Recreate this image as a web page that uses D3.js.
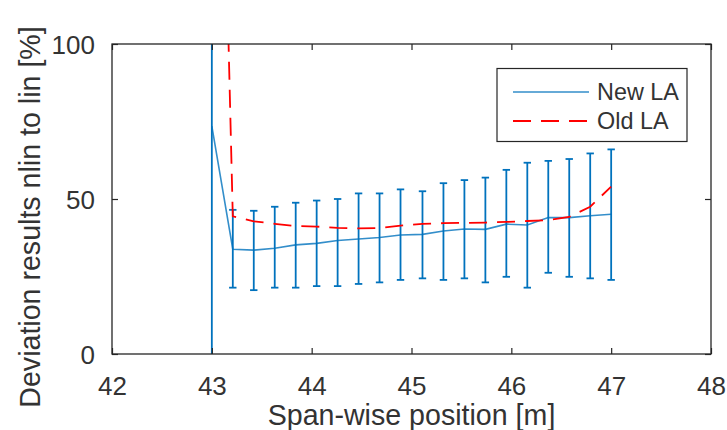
<!DOCTYPE html>
<html>
<head>
<meta charset="utf-8">
<script src="https://cdn.jsdelivr.net/npm/d3@7"></script>
<style>
  html, body { margin: 0; padding: 0; background: #fff; }
  svg { display: block; font-family: "Liberation Sans", Arial, Helvetica, sans-serif; }
</style>
</head>
<body>
<script>
// ---- data ----
const positions = [43, 43.21, 43.42, 43.63, 43.84, 44.05, 44.26, 44.47, 44.68, 44.89,
                   45.11, 45.32, 45.53, 45.74, 45.95, 46.16, 46.37, 46.58, 46.79, 47];
const newLA = [73.5, 33.8, 33.5, 34.1, 35.2, 35.7, 36.6, 37.1, 37.6, 38.4,
               38.6, 39.7, 40.3, 40.2, 41.9, 41.6, 44.0, 44.0, 44.6, 45.1];
const newLAUpper = [170, 46.5, 46.2, 47.5, 48.8, 49.5, 50.0, 51.8, 51.8, 53.1,
                    52.5, 55.1, 56.1, 56.9, 59.4, 61.7, 62.3, 62.9, 64.7, 66.0];
const newLALower = [-50, 21.4, 20.6, 21.4, 21.4, 21.9, 21.9, 22.6, 23.1, 23.9,
                    24.4, 23.9, 24.4, 23.1, 24.9, 21.4, 26.2, 24.9, 24.4, 23.9];
const oldLA = [320, 44.4, 42.8, 42.0, 41.3, 41.1, 40.7, 40.5, 40.6, 41.4,
               42.0, 42.2, 42.3, 42.4, 42.6, 42.9, 43.2, 44.2, 47.5, 54.0];
const xTicks = [42, 43, 44, 45, 46, 47, 48];
const yTicks = [0, 50, 100];
const seriesNames = ["New LA", "Old LA"];
const xLabel = "Span-wise position [m]";
const yLabel = "Deviation results nlin to lin [%]";

// ---- layout ----
const W = 727, H = 430;
const L = 112, R = 711, T = 44, B = 354;
const blue = "#0072BD", red = "#FF0000", axisCol = "#262626";

const svg = d3.select("body").append("svg").attr("width", W).attr("height", H);

const x = d3.scaleLinear().domain([42, 48]).range([L, R]);
const y = d3.scaleLinear().domain([0, 100]).range([B, T]);

svg.append("defs").append("clipPath").attr("id", "clip")
  .append("rect").attr("x", L).attr("y", T).attr("width", R - L).attr("height", B - T);

const plot = svg.append("g").attr("clip-path", "url(#clip)");

const pts = positions.map((p, i) => ({x: p, v: newLA[i], lo: newLALower[i], hi: newLAUpper[i], o: oldLA[i]}));

// error bars
const capW = 3.7;
const eb = plot.append("g").attr("stroke", blue).attr("stroke-width", 1.8).attr("fill", "none");
pts.forEach(d => {
  eb.append("line").attr("x1", x(d.x)).attr("x2", x(d.x)).attr("y1", y(d.lo)).attr("y2", y(d.hi));
  eb.append("line").attr("x1", x(d.x) - capW).attr("x2", x(d.x) + capW).attr("y1", y(d.lo)).attr("y2", y(d.lo));
  eb.append("line").attr("x1", x(d.x) - capW).attr("x2", x(d.x) + capW).attr("y1", y(d.hi)).attr("y2", y(d.hi));
});

// New LA line
plot.append("path").datum(pts)
  .attr("fill", "none").attr("stroke", blue).attr("stroke-width", 1.6).attr("stroke-opacity", 0.8)
  .attr("d", d3.line().x(d => x(d.x)).y(d => y(d.v)));

// Old LA line
plot.append("path").datum(pts)
  .attr("fill", "none").attr("stroke", red).attr("stroke-width", 1.8)
  .attr("stroke-dasharray", "18,10")
  .attr("d", d3.line().x(d => x(d.x)).y(d => y(d.o)));

// axes
const tickLen = 6;
const fs = 26;
const gx = svg.append("g").attr("transform", `translate(0,${B})`)
  .call(d3.axisBottom(x).tickValues(xTicks).tickSizeInner(-tickLen).tickSizeOuter(0).tickPadding(0).tickFormat(d3.format("d")));
gx.selectAll("text").attr("y", 41).attr("dy", null);
const gxt = svg.append("g").attr("transform", `translate(0,${T})`)
  .call(d3.axisTop(x).tickValues(xTicks).tickSizeInner(-tickLen).tickSizeOuter(0).tickFormat(""));
const gy = svg.append("g").attr("transform", `translate(${L},0)`)
  .call(d3.axisLeft(y).tickValues(yTicks).tickSizeInner(-tickLen).tickSizeOuter(0).tickFormat(d3.format("d")));
gy.selectAll("text").attr("x", -17).attr("dy", "0.36em");
const gyr = svg.append("g").attr("transform", `translate(${R},0)`)
  .call(d3.axisRight(y).tickValues(yTicks).tickSizeInner(-tickLen).tickSizeOuter(0).tickFormat(""));

[gx, gxt, gy, gyr].forEach(g => {
  g.selectAll(".domain").remove();
  g.selectAll("line").attr("stroke", axisCol).attr("stroke-width", 1.2);
  g.selectAll("text").attr("fill", "#333").attr("font-size", fs)
    .attr("font-family", "'Liberation Sans', Arial, sans-serif");
});

// box
svg.append("rect").attr("x", L).attr("y", T).attr("width", R - L).attr("height", B - T)
  .attr("fill", "none").attr("stroke", axisCol).attr("stroke-width", 1.3);

// axis labels
svg.append("text").attr("x", (L + R) / 2).attr("y", 425).attr("text-anchor", "middle")
  .attr("font-size", 28.6).attr("fill", "#333").text(xLabel);
svg.append("text").attr("transform", `translate(40,217) rotate(-90)`)
  .attr("text-anchor", "middle").attr("font-size", 28.6).attr("fill", "#333").text(yLabel);

// legend
const lg = svg.append("g");
lg.append("rect").attr("x", 497).attr("y", 68.5).attr("width", 190).attr("height", 73)
  .attr("fill", "#fff").attr("stroke", axisCol).attr("stroke-width", 1.2);
const legY = [92, 121];
lg.append("line").attr("x1", 513).attr("x2", 589).attr("y1", legY[0]).attr("y2", legY[0])
  .attr("stroke", blue).attr("stroke-width", 1.6).attr("stroke-opacity", 0.8);
lg.append("line").attr("x1", 513).attr("x2", 589).attr("y1", legY[1]).attr("y2", legY[1])
  .attr("stroke", red).attr("stroke-width", 1.8).attr("stroke-dasharray", "18,10");
seriesNames.forEach((n, i) => {
  lg.append("text").attr("x", 597).attr("y", legY[i]).attr("dy", "0.36em")
    .attr("font-size", 23.4).attr("fill", "#333").text(n);
});
</script>
</body>
</html>
